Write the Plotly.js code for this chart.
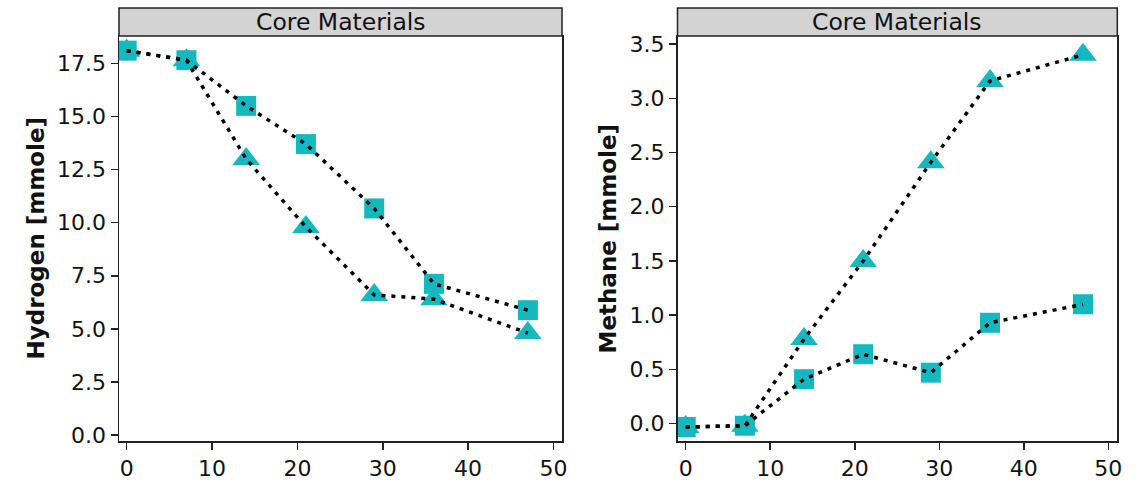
<!DOCTYPE html>
<html>
<head>
<meta charset="utf-8">
<script src="https://cdn.plot.ly/plotly-3.0.1.min.js"></script>
<style>html,body{margin:0;padding:0;background:#fff;}#chart{width:1145px;height:484px;}</style>
</head>
<body>
<div id="chart"></div>
<script>
// Sampling days
const days = [0, 7, 14, 21, 29, 36, 47];

// Hydrogen [mmole]
const hydrogenSquare   = [18.1, 17.65, 15.5, 13.7, 10.67, 7.12, 5.88];
const hydrogenTriangle = [18.1, 17.65, 13.0, 9.8, 6.6, 6.4, 4.8];

// Methane [mmole]
const methaneSquare   = [-0.03, -0.02, 0.41, 0.64, 0.47, 0.93, 1.10];
const methaneTriangle = [-0.03, -0.02, 0.78, 1.50, 2.41, 3.16, 3.40];

const panelTitle = "Core Materials";
const yTitles = ["Hydrogen [mmole]", "Methane [mmole]"];

const teal = "#14b8be";
const font = "DejaVu Sans, Verdana, sans-serif";

function markers(x, y, sym, xa, ya) {
  return {x: x, y: y, xaxis: xa, yaxis: ya, type: "scatter", mode: "markers",
    marker: {symbol: sym, size: sym === "square" ? 20 : 24, color: teal, line: {width: 0}},
    hoverinfo: "x+y", showlegend: false};
}
function dotted(x, y, xa, ya) {
  return {x: x, y: y, xaxis: xa, yaxis: ya, type: "scatter", mode: "lines",
    line: {color: "#000", width: 3.5, dash: "4px,6px"}, hoverinfo: "skip", showlegend: false};
}

const data = [
  markers(days, hydrogenTriangle, "triangle-up", "x", "y"),
  markers(days, hydrogenSquare, "square", "x", "y"),
  dotted(days, hydrogenTriangle, "x", "y"),
  dotted(days, hydrogenSquare, "x", "y"),
  markers(days, methaneTriangle, "triangle-up", "x2", "y2"),
  markers(days, methaneSquare, "square", "x2", "y2"),
  dotted(days, methaneTriangle, "x2", "y2"),
  dotted(days, methaneSquare, "x2", "y2")
];

const W = 1145, H = 484;
const dom1 = [119 / W, 562 / W];
const dom2 = [677.5 / W, 1117.3 / W];
const ydom = [(H - 441) / H, (H - 36) / H];
const stripTop = (H - 8) / H;
const titleX = [35 / W, 607 / W];

function axisBase() {
  return {showgrid: false, zeroline: false, showline: true, mirror: true,
    linecolor: "#222", linewidth: 1.5, ticks: "outside", ticklen: 7, tickwidth: 1.5,
    tickcolor: "#222", tickfont: {family: font, size: 22, color: "#111"}, automargin: false};
}

const stripAnn = [dom1, dom2].map(d => ({xref: "paper", yref: "paper",
    x: (d[0] + d[1]) / 2, y: (ydom[1] + stripTop) / 2, xanchor: "center", yanchor: "middle",
    text: panelTitle, showarrow: false, font: {family: font, size: 23.5, color: "#111"}}));
const yTitleAnn = yTitles.map((t, i) => ({xref: "paper", yref: "paper",
    x: titleX[i], y: (ydom[0] + ydom[1]) / 2, xanchor: "center", yanchor: "middle",
    textangle: -90, text: "<b>" + t + "</b>", showarrow: false,
    font: {family: font, size: 23, color: "#111"}}));

const layout = {
  width: W, height: H,
  margin: {l: 0, r: 0, t: 0, b: 0},
  paper_bgcolor: "#fff", plot_bgcolor: "#fff",
  font: {family: font, color: "#111"},
  xaxis: Object.assign(axisBase(), {domain: dom1, range: [-0.9, 51.0], dtick: 10, tick0: 0, anchor: "y"}),
  yaxis: Object.assign(axisBase(), {domain: ydom, range: [-0.28, 18.79], dtick: 2.5, tick0: 0, tickformat: ".1f", anchor: "x"}),
  xaxis2: Object.assign(axisBase(), {domain: dom2, range: [-0.97, 51.06], dtick: 10, tick0: 0, anchor: "y2"}),
  yaxis2: Object.assign(axisBase(), {domain: ydom, range: [-0.16, 3.574], dtick: 0.5, tick0: 0, tickformat: ".1f", anchor: "x2"}),
  shapes: [dom1, dom2].map(d => ({type: "rect", xref: "paper", yref: "paper",
    x0: d[0], x1: d[1], y0: ydom[1], y1: stripTop, fillcolor: "#d3d3d3",
    line: {color: "#222", width: 1.5}, layer: "above"})),
  annotations: stripAnn.concat(yTitleAnn)
};

Plotly.newPlot("chart", data, layout, {displayModeBar: false, staticPlot: true});
</script>
</body>
</html>
